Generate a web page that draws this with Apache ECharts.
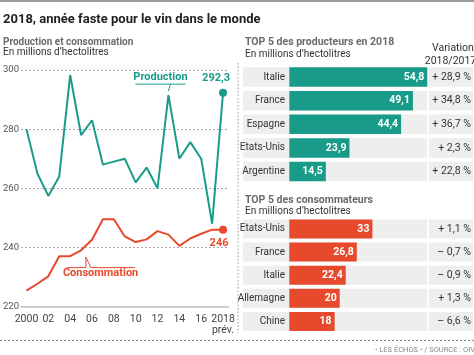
<!DOCTYPE html>
<html><head><meta charset="utf-8">
<script src="https://cdn.jsdelivr.net/npm/echarts@6/dist/echarts.min.js"></script>
<style>html,body{margin:0;padding:0;background:#fff}#c{width:474px;height:355px}</style>
</head><body><div id="c"></div>
<script>
const years = ['2000','2001','2002','2003','2004','2005','2006','2007','2008','2009','2010','2011','2012','2013','2014','2015','2016','2017','2018'];
const xTickLabels = ['2000','02','04','06','08','10','12','14','16','2018\nprév.'];
const production = [280, 265, 257.4, 264, 298.3, 278, 283, 268, 269, 270, 262, 267, 260, 291.5, 270, 275.6, 270, 248, 292.3];
const consumption = [225.4, 227.7, 230.2, 237, 237, 239, 242.6, 249.5, 249.5, 243.7, 241.8, 242.7, 245.5, 244.3, 240.5, 243, 244.6, 246, 246];
const yTicks = [220, 240, 260, 280, 300];
const producers = ['Italie','France','Espagne','Etats-Unis','Argentine'];
const prodValues = [54.8, 49.1, 44.4, 23.9, 14.5];
const prodVariation = ['+ 28,9 %','+ 34,8 %','+ 36,7 %','+ 2,3 %','+ 22,8 %'];
const consumers = ['Etats-Unis','France','Italie','Allemagne','Chine'];
const consValues = [33, 26.8, 22.4, 20, 18];
const consVariation = ['+ 1,1 %','– 0,7 %','– 0,9 %','+ 1,3 %','– 6,6 %'];

const TEAL = '#189c89', RED = '#e6492b', FONT = 'Roboto, "Noto Sans", sans-serif';
const chart = echarts.init(document.getElementById('c'));

function txt(text, x, y, size, weight, color, align) {
  return {type:'text', x:x, y:y, silent:true, z:10, style:{text:text, fontSize:size, fontWeight:weight||'normal', fontFamily:FONT, fill:color||'#333', align:align||'left', verticalAlign:'middle'}};
}
const fmt = v => String(v).replace('.', ',');

function barGrid(idx, cats, vals, color, bw) {
  return {
    x: {gridIndex: idx, type:'value', min: -18.4, max: 54.8, show:false},
    y: {gridIndex: idx, type:'category', data: cats, inverse:true, z:6,
        axisLine:{show:false}, axisTick:{show:false},
        axisLabel:{margin:-42, fontSize:10, color:'#333', fontFamily:FONT}},
    s: {type:'bar', xAxisIndex: idx, yAxisIndex: idx, data: vals, barWidth:bw,
        itemStyle:{color:color}, showBackground:true, backgroundStyle:{color:'#eeeeee'},
        label:{show:true, position:'insideRight', color:'#fff', fontWeight:'bold', fontSize:10.5, fontFamily:FONT, formatter:p=>fmt(p.value), distance:3}}
  };
}
function varGrid(idx, cats, vars, bw) {
  return {
    x: {gridIndex: idx, type:'value', min:0, max:1, show:false},
    y: {gridIndex: idx, type:'category', data: cats, inverse:true, z:6,
        axisLine:{show:false}, axisTick:{show:false},
        axisLabel:{margin:-42, fontSize:10.5, color:'#333', fontFamily:FONT, formatter:(v,i)=>vars[i]}},
    s: {type:'bar', xAxisIndex: idx, yAxisIndex: idx, data: cats.map(()=>0), barWidth:bw,
        showBackground:true, backgroundStyle:{color:'#eeeeee'}, itemStyle:{color:'#eeeeee'}}
  };
}
const g1 = barGrid(1, producers, prodValues, TEAL, 19.5);
const g2 = varGrid(2, producers, prodVariation, 19.5);
const g3 = barGrid(3, consumers, consValues, RED, 19);
const g4 = varGrid(4, consumers, consVariation, 19);

const last = years.length - 1;
const option = {
  animation:false,
  textStyle:{fontFamily:FONT},
  grid:[
    {left:17.5, width:211, top:70, height:236.5},
    {left:243, width:184.3, top:65.3, height:118},
    {left:429, width:44, top:65.3, height:118},
    {left:243, width:184.3, top:217.4, height:115.6},
    {left:429, width:44, top:217.4, height:115.6}
  ],
  xAxis:[
    {gridIndex:0, type:'category', data:years, boundaryGap:true,
     axisLine:{lineStyle:{color:'#c4c4c4', width:1.5}}, axisTick:{show:false},
     axisLabel:{interval:0, margin:7, fontSize:10.5, color:'#444', lineHeight:11, fontFamily:FONT,
       formatter:(v,i)=> i%2===0 ? xTickLabels[i/2] : ''}},
    g1.x, g2.x, g3.x, g4.x
  ],
  yAxis:[
    {gridIndex:0, type:'value', min:yTicks[0], max:yTicks[yTicks.length-1], interval:20,
     axisLine:{show:false}, axisTick:{show:false},
     axisLabel:{margin:2, fontSize:9.5, color:'#555', fontFamily:FONT},
     splitLine:{lineStyle:{type:[2,2], color:'#aaa'}}},
    g1.y, g2.y, g3.y, g4.y
  ],
  series:[
    {type:'line', name:'Production', data:production, xAxisIndex:0, yAxisIndex:0,
     lineStyle:{color:TEAL, width:2}, itemStyle:{color:TEAL}, symbol:'circle', showAllSymbol:true,
     symbolSize:(v,p)=> p.dataIndex===last ? 8 : 0,
     label:{show:true, position:'top', offset:[-7,0], color:TEAL, fontWeight:'bold', fontSize:11, fontFamily:FONT,
       formatter:p=> p.dataIndex===last ? fmt(p.value) : ''}},
    {type:'line', name:'Consommation', data:consumption, xAxisIndex:0, yAxisIndex:0,
     lineStyle:{color:RED, width:2}, itemStyle:{color:RED}, symbol:'circle', showAllSymbol:true,
     symbolSize:(v,p)=> p.dataIndex===last ? 8 : 0,
     label:{show:true, position:'bottom', offset:[-4,-1], color:RED, fontWeight:'bold', fontSize:11, fontFamily:FONT,
       formatter:p=> p.dataIndex===last ? fmt(p.value) : ''}},
    g1.s, g2.s, g3.s, g4.s
  ]
};
chart.setOption(option);

// Callouts anchored through the chart's own scales
const pP = chart.convertToPixel({gridIndex:0}, [years[13], production[13]]);
const pC = chart.convertToPixel({gridIndex:0}, [years[5], consumption[5]]);
const graphics = [
  {type:'rect', shape:{x:0, y:0, width:474, height:2}, style:{fill:'#9a9a9a'}, silent:true},
  txt('2018, année faste pour le vin dans le monde', 3, 20, 13, 'bold', '#222'),
  txt('Production et consommation', 3, 42, 10, 'bold', '#6a6a6a'),
  txt('En millions d\u2019hectolitres', 3, 52.5, 10, 'normal', '#333'),
  txt('TOP 5 des producteurs en 2018', 245, 42.5, 10.5, 'bold', '#6a6a6a'),
  txt('En millions d\u2019hectolitres', 245, 54, 10, 'normal', '#333'),
  txt('Variation', 453, 48.5, 10.5, 'normal', '#333', 'center'),
  txt('2018/2017', 450.5, 61.5, 10.5, 'normal', '#333', 'center'),
  txt('TOP 5 des consommateurs', 245, 200, 10.5, 'bold', '#6a6a6a'),
  txt('En millions d\u2019hectolitres', 245, 211, 10, 'normal', '#333'),
  txt('\u2022 LES ÉCHOS \u2022 / SOURCE : OIV', 475, 350, 7.5, 'normal', '#888', 'right'),
  {type:'line', shape:{x1:238, y1:63, x2:238, y2:333}, style:{stroke:'#999', lineWidth:1, lineDash:[1.5,2]}, silent:true},
  {type:'line', shape:{x1:0, y1:340.5, x2:474, y2:340.5}, style:{stroke:'#888', lineWidth:1, lineDash:[2,2]}, silent:true},
  // Production callout
  txt('Production', pP[0]-8, pP[1]-17.5, 11, 'bold', TEAL, 'center'),
  {type:'polyline', shape:{points:[[pP[0]-33, pP[1]-11],[pP[0]+17, pP[1]-11]]}, style:{stroke:TEAL, lineWidth:1, fill:null}, silent:true},
  {type:'line', shape:{x1:pP[0]+2, y1:pP[1]-11, x2:pP[0], y2:pP[1]-4}, style:{stroke:TEAL, lineWidth:1}, silent:true},
  // Consommation callout
  txt('Consommation', pC[0]+19.5, pC[1]+23, 11, 'bold', RED, 'center'),
  {type:'polyline', shape:{points:[[pC[0]-14.5, pC[1]+17.3],[pC[0]+4.8, pC[1]+17.3],[pC[0]+4.8, pC[1]+6.7],[pC[0]+9.8, pC[1]+17.3],[pC[0]+53.8, pC[1]+17.3]]}, style:{stroke:RED, lineWidth:1, fill:null}, silent:true}
];
chart.setOption({graphic: graphics});
</script></body></html>
